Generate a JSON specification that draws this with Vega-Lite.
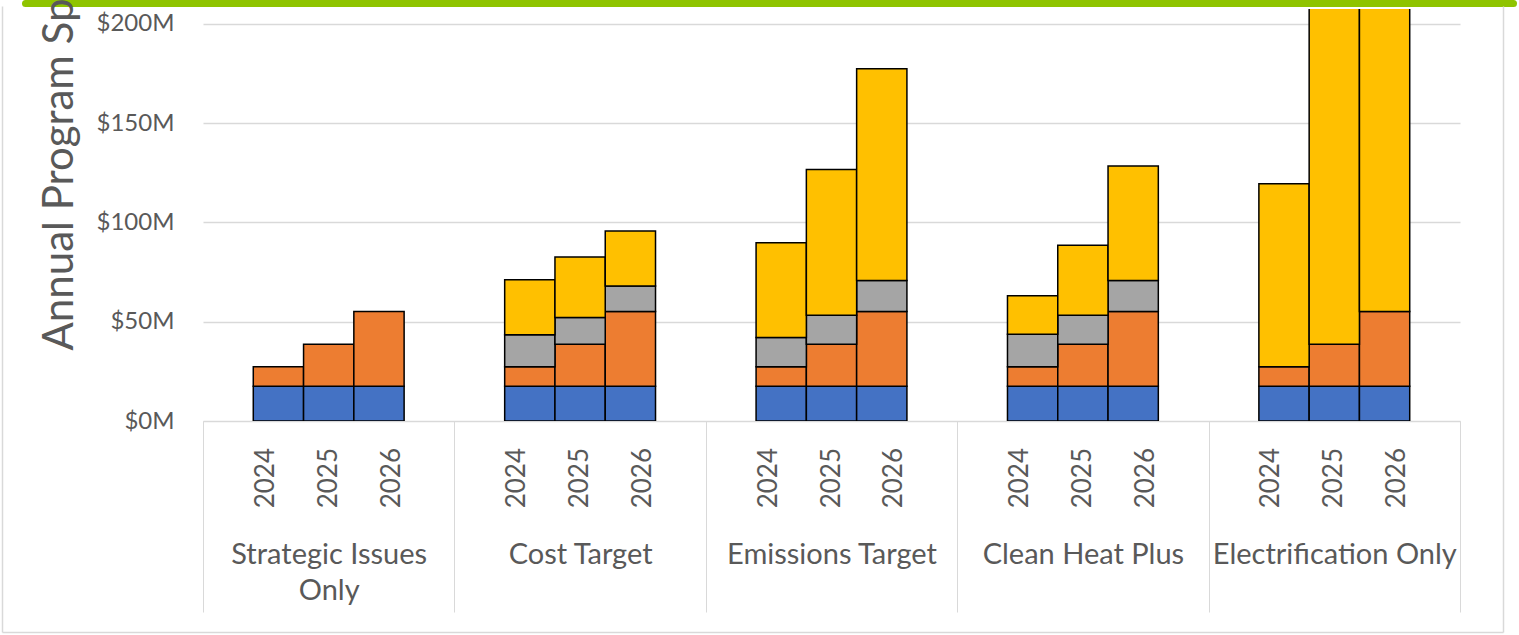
{
  "$schema": "https://vega.github.io/schema/vega-lite/v6.json",
  "width": 1257,
  "height": 412,
  "autosize": {"type": "none"},
  "padding": {"left": 203, "top": 9, "right": 59, "bottom": 214},
  "background": "white",
  "config": {
    "view": {"stroke": null},
    "font": "Lato"
  },
  "datasets": {
    "bars": [
      {"scenario": "Strategic Issues Only", "year": "2024", "series": "Series 1", "value": 17.5},
      {"scenario": "Strategic Issues Only", "year": "2025", "series": "Series 1", "value": 17.5},
      {"scenario": "Strategic Issues Only", "year": "2026", "series": "Series 1", "value": 17.5},
      {"scenario": "Strategic Issues Only", "year": "2024", "series": "Series 2", "value": 9.8},
      {"scenario": "Strategic Issues Only", "year": "2025", "series": "Series 2", "value": 21.1},
      {"scenario": "Strategic Issues Only", "year": "2026", "series": "Series 2", "value": 37.7},

      {"scenario": "Cost Target", "year": "2024", "series": "Series 1", "value": 17.5},
      {"scenario": "Cost Target", "year": "2025", "series": "Series 1", "value": 17.5},
      {"scenario": "Cost Target", "year": "2026", "series": "Series 1", "value": 17.5},
      {"scenario": "Cost Target", "year": "2024", "series": "Series 2", "value": 9.8},
      {"scenario": "Cost Target", "year": "2025", "series": "Series 2", "value": 21.1},
      {"scenario": "Cost Target", "year": "2026", "series": "Series 2", "value": 37.7},
      {"scenario": "Cost Target", "year": "2024", "series": "Series 3", "value": 16.2},
      {"scenario": "Cost Target", "year": "2025", "series": "Series 3", "value": 13.5},
      {"scenario": "Cost Target", "year": "2026", "series": "Series 3", "value": 12.8},
      {"scenario": "Cost Target", "year": "2024", "series": "Series 4", "value": 27.7},
      {"scenario": "Cost Target", "year": "2025", "series": "Series 4", "value": 30.5},
      {"scenario": "Cost Target", "year": "2026", "series": "Series 4", "value": 27.7},

      {"scenario": "Emissions Target", "year": "2024", "series": "Series 1", "value": 17.5},
      {"scenario": "Emissions Target", "year": "2025", "series": "Series 1", "value": 17.5},
      {"scenario": "Emissions Target", "year": "2026", "series": "Series 1", "value": 17.5},
      {"scenario": "Emissions Target", "year": "2024", "series": "Series 2", "value": 9.8},
      {"scenario": "Emissions Target", "year": "2025", "series": "Series 2", "value": 21.1},
      {"scenario": "Emissions Target", "year": "2026", "series": "Series 2", "value": 37.7},
      {"scenario": "Emissions Target", "year": "2024", "series": "Series 3", "value": 14.7},
      {"scenario": "Emissions Target", "year": "2025", "series": "Series 3", "value": 14.6},
      {"scenario": "Emissions Target", "year": "2026", "series": "Series 3", "value": 15.6},
      {"scenario": "Emissions Target", "year": "2024", "series": "Series 4", "value": 47.8},
      {"scenario": "Emissions Target", "year": "2025", "series": "Series 4", "value": 73.5},
      {"scenario": "Emissions Target", "year": "2026", "series": "Series 4", "value": 106.6},

      {"scenario": "Clean Heat Plus", "year": "2024", "series": "Series 1", "value": 17.5},
      {"scenario": "Clean Heat Plus", "year": "2025", "series": "Series 1", "value": 17.5},
      {"scenario": "Clean Heat Plus", "year": "2026", "series": "Series 1", "value": 17.5},
      {"scenario": "Clean Heat Plus", "year": "2024", "series": "Series 2", "value": 9.8},
      {"scenario": "Clean Heat Plus", "year": "2025", "series": "Series 2", "value": 21.1},
      {"scenario": "Clean Heat Plus", "year": "2026", "series": "Series 2", "value": 37.7},
      {"scenario": "Clean Heat Plus", "year": "2024", "series": "Series 3", "value": 16.4},
      {"scenario": "Clean Heat Plus", "year": "2025", "series": "Series 3", "value": 14.6},
      {"scenario": "Clean Heat Plus", "year": "2026", "series": "Series 3", "value": 15.6},
      {"scenario": "Clean Heat Plus", "year": "2024", "series": "Series 4", "value": 19.4},
      {"scenario": "Clean Heat Plus", "year": "2025", "series": "Series 4", "value": 35.3},
      {"scenario": "Clean Heat Plus", "year": "2026", "series": "Series 4", "value": 57.6},

      {"scenario": "Electrification Only", "year": "2024", "series": "Series 1", "value": 17.5},
      {"scenario": "Electrification Only", "year": "2025", "series": "Series 1", "value": 17.5},
      {"scenario": "Electrification Only", "year": "2026", "series": "Series 1", "value": 17.5},
      {"scenario": "Electrification Only", "year": "2024", "series": "Series 2", "value": 9.8},
      {"scenario": "Electrification Only", "year": "2025", "series": "Series 2", "value": 21.1},
      {"scenario": "Electrification Only", "year": "2026", "series": "Series 2", "value": 37.7},
      {"scenario": "Electrification Only", "year": "2024", "series": "Series 4", "value": 92.2},
      {"scenario": "Electrification Only", "year": "2025", "series": "Series 4", "value": 200},
      {"scenario": "Electrification Only", "year": "2026", "series": "Series 4", "value": 220}
    ]
  },
  "data": {"name": "bars"},
  "layer": [
    {
      "mark": {"type": "bar", "stroke": "#000000", "strokeWidth": 1.5, "clip": true},
      "encoding": {
        "x": {
          "field": "scenario",
          "type": "nominal",
          "scale": {
            "domain": ["Strategic Issues Only", "Cost Target", "Emissions Target", "Clean Heat Plus", "Electrification Only"],
            "paddingInner": 0,
            "paddingOuter": 0
          },
          "axis": {
            "title": null,
            "orient": "bottom",
            "domainColor": "#D9D9D9",
            "domainWidth": 1,
            "tickColor": "#D9D9D9",
            "tickWidth": 1,
            "tickSize": 191,
            "tickBand": "extent",
            "labelAngle": 0,
            "labelFont": "Lato",
            "labelFontSize": 29,
            "labelColor": "#595959",
            "labelPadding": -49,
            "labelBaseline": "alphabetic",
            "labelLineHeight": 36,
            "labelLimit": 400,
            "labelOverlap": false,
            "labelFlush": false,
            "labelExpr": "datum.value == 'Strategic Issues Only' ? ['Strategic Issues', 'Only'] : datum.value",
            "grid": false
          }
        },
        "xOffset": {
          "field": "year",
          "type": "nominal",
          "scale": {"domain": ["pre", "2024", "2025", "2026", "post"], "paddingInner": 0, "paddingOuter": 0}
        },
        "y": {
          "field": "value",
          "type": "quantitative",
          "stack": "zero",
          "scale": {"domain": [0, 207.5], "nice": false, "zero": true},
          "axis": {
            "title": "Annual Program Spending",
            "titleFont": "Lato",
            "titleFontSize": 42,
            "titleFontWeight": "normal",
            "titleColor": "#595959",
            "titleAngle": -90,
            "titleAlign": "left",
            "titleBaseline": "alphabetic",
            "titleX": -131,
            "titleY": 341,
            "values": [0, 50, 100, 150, 200],
            "labelExpr": "'$' + datum.value + 'M'",
            "labelFont": "Lato",
            "labelFontSize": 24,
            "labelColor": "#595959",
            "labelPadding": 29,
            "ticks": false,
            "domain": false,
            "grid": true,
            "gridColor": "#D9D9D9",
            "gridWidth": 1.3
          }
        },
        "color": {
          "field": "series",
          "type": "nominal",
          "scale": {
            "domain": ["Series 1", "Series 2", "Series 3", "Series 4"],
            "range": ["#4472C4", "#ED7D31", "#A5A5A5", "#FFC000"]
          },
          "legend": null
        },
        "order": {"field": "series", "type": "nominal", "sort": "ascending"}
      }
    },
    {
      "transform": [{"filter": "datum.series == 'Series 1'"}],
      "mark": {
        "type": "text",
        "angle": 270,
        "align": "right",
        "baseline": "middle",
        "dx": -27,
        "font": "Lato",
        "fontSize": 26,
        "color": "#595959"
      },
      "encoding": {
        "x": {
          "field": "scenario",
          "type": "nominal",
          "scale": {
            "domain": ["Strategic Issues Only", "Cost Target", "Emissions Target", "Clean Heat Plus", "Electrification Only"],
            "paddingInner": 0,
            "paddingOuter": 0
          },
          "axis": null
        },
        "xOffset": {
          "field": "year",
          "type": "nominal",
          "scale": {"domain": ["pre", "2024", "2025", "2026", "post"], "paddingInner": 0, "paddingOuter": 0}
        },
        "y": {"datum": 0},
        "text": {"field": "year", "type": "nominal"}
      }
    },
    {
      "transform": [{"filter": "datum.series == 'Series 1' && datum.scenario == 'Cost Target' && datum.year == '2024'"}],
      "mark": {"type": "text", "text": ""},
      "encoding": {
        "x": {
          "field": "value",
          "type": "quantitative",
          "scale": {"domain": [0, 100], "range": [-178, 1310], "nice": false, "zero": false},
          "axis": {
            "orient": "top",
            "title": null,
            "labels": false,
            "ticks": false,
            "grid": false,
            "domainColor": "#8FC400",
            "domainWidth": 7,
            "domainCap": "round",
            "offset": 6
          }
        },
        "y": {"datum": 0}
      }
    },
    {
      "transform": [{"filter": "datum.series == 'Series 1' && datum.scenario == 'Cost Target' && datum.year == '2025'"}],
      "mark": {"type": "text", "text": ""},
      "encoding": {
        "x": {
          "field": "value",
          "type": "quantitative",
          "scale": {"domain": [0, 100], "range": [-201, 1300], "nice": false, "zero": false},
          "axis": {
            "orient": "bottom",
            "title": null,
            "labels": false,
            "values": [0, 100],
            "ticks": true,
            "tickSize": -626,
            "tickColor": "#D9D9D9",
            "tickWidth": 1.5,
            "grid": false,
            "domainColor": "#D9D9D9",
            "domainWidth": 1.5,
            "offset": 211
          }
        },
        "y": {"datum": 0}
      }
    }
  ],
  "resolve": {
    "scale": {"x": "independent", "xOffset": "independent"},
    "axis": {"x": "independent"}
  }
}
